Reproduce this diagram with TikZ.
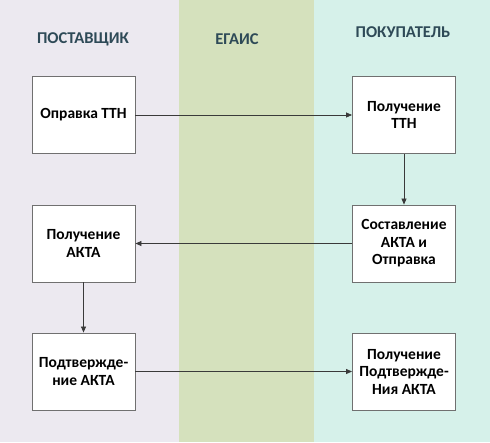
\documentclass[tikz,border=0pt]{standalone}
\usepackage{fontspec}
\setmainfont{Carlito}
\usetikzlibrary{arrows.meta}
\definecolor{lav}{HTML}{ECE9F0}
\definecolor{grn}{HTML}{D5E1BD}
\definecolor{mint}{HTML}{D6F1EA}
\definecolor{head}{HTML}{2E4A57}
\definecolor{boxline}{HTML}{707070}
\definecolor{arr}{HTML}{3A3A3A}
\tikzset{
  stepbox/.style={draw=boxline, line width=0.9pt, fill=white, minimum width=103pt, minimum height=77pt,
    align=center, font=\fontsize{15.5}{17.5}\selectfont\bfseries, text=black, inner sep=2pt},
  heading/.style={font=\fontsize{16.5}{19}\selectfont\bfseries, text=head},
  conn/.style={draw=arr, line width=0.7pt, -{Triangle[length=6pt,width=5pt]}}
}
\begin{document}
\begin{tikzpicture}[x=1pt,y=-1pt]
\useasboundingbox (0,0) rectangle (490,442);
\fill[lav] (0,0) rectangle (179,442);
\fill[grn] (179,0) rectangle (314,442);
\fill[mint] (314,0) rectangle (490,442);
\node[heading] (h1) at (83,39) {ПОСТАВЩИК};
\node[heading] (h2) at (237,39) {ЕГАИС};
\node[heading] (h3) at (403,32) {ПОКУПАТЕЛЬ};
\node[stepbox] (a) at (83.5,115) {Оправка ТТН};
\node[stepbox] (b) at (404,115) {Получение\\ТТН};
\node[stepbox] (c) at (404,243.5) {Составление\\АКТА и\\Отправка};
\node[stepbox] (d) at (83.5,243.5) {Получение\\АКТА};
\node[stepbox] (e) at (83.5,371.5) {Подтвержде-\\ние АКТА};
\node[stepbox] (f) at (404,371.5) {Получение\\Подтвержде-\\Ния АКТА};
\draw[conn] (a) -- (b);
\draw[conn] (b) -- (c);
\draw[conn] (c) -- (d);
\draw[conn] (d) -- (e);
\draw[conn] (e) -- (f);
\end{tikzpicture}
\end{document}
